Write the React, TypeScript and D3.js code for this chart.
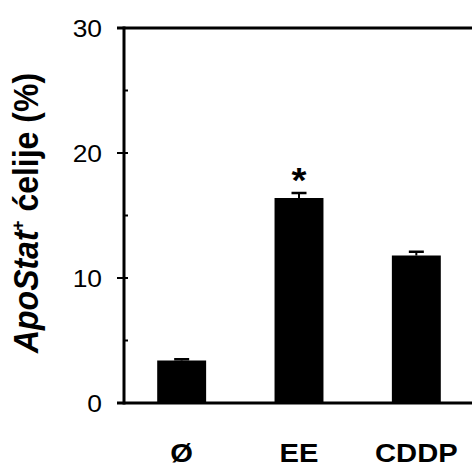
import React, { useEffect, useRef } from 'react'
import * as d3 from 'd3'

// bar chart: ApoStat+ cells per treatment
const categories = ['Ø', 'EE', 'CDDP']
const values = [3.4, 16.4, 11.8]
const errors = [0.1, 0.4, 0.3]
const marks = ['', '*', '']
const majorTicks = [0, 10, 20, 30]
const minorTicks = [5, 15, 25]

const width = 472
const height = 468
const stretch = 'scale(1.1,1)'

function App() {
  const node = useRef<SVGSVGElement | null>(null)

  useEffect(() => {
    const svg = d3.select(node.current)
    svg.selectAll('*').remove()

    const y = d3.scaleLinear().domain([0, 30]).range([403, 28])
    const x = d3.scaleBand<string>()
      .domain(categories)
      .range([124, 474])
      .paddingInner(0.583)
      .paddingOuter(0.283)

    const g = svg.append('g')

    // bars
    g.selectAll('rect.bar')
      .data(values)
      .join('rect')
      .attr('class', 'bar')
      .attr('x', (d, i) => x(categories[i])!)
      .attr('width', x.bandwidth())
      .attr('y', d => y(d))
      .attr('height', d => y(0) - y(d))
      .attr('fill', '#000')

    // error bars (upper only)
    const err = g.selectAll('g.err')
      .data(values)
      .join('g')
      .attr('class', 'err')
      .attr('transform', (d, i) => `translate(${x(categories[i])! + x.bandwidth() / 2},0)`)
    err.append('line')
      .attr('x1', 0).attr('x2', 0)
      .attr('y1', d => y(d))
      .attr('y2', (d, i) => y(d + errors[i]))
      .attr('stroke', '#000').attr('stroke-width', 2)
    err.append('line')
      .attr('x1', -7.5).attr('x2', 7.5)
      .attr('y1', (d, i) => y(d + errors[i]))
      .attr('y2', (d, i) => y(d + errors[i]))
      .attr('stroke', '#000').attr('stroke-width', 2.5)

    // significance marks
    g.selectAll('text.mark')
      .data(values)
      .join('text')
      .attr('class', 'mark')
      .attr('transform', (d, i) => `translate(${x(categories[i])! + x.bandwidth() / 2},${y(d + errors[i]) - 1}) ${stretch}`)
      .attr('text-anchor', 'middle')
      .attr('font-family', 'Liberation Sans, Arial, sans-serif')
      .attr('font-weight', 'bold')
      .attr('font-size', 35)
      .text((d, i) => marks[i])

    // axes
    const axisStroke = 3
    g.append('line')
      .attr('x1', 124).attr('x2', 124)
      .attr('y1', y(30) - 1.5).attr('y2', y(0) + 1.5)
      .attr('stroke', '#000').attr('stroke-width', axisStroke)
    g.append('line')
      .attr('x1', 117).attr('x2', width)
      .attr('y1', y(0)).attr('y2', y(0))
      .attr('stroke', '#000').attr('stroke-width', axisStroke)
    g.append('line')
      .attr('x1', 117).attr('x2', width)
      .attr('y1', y(30)).attr('y2', y(30))
      .attr('stroke', '#000').attr('stroke-width', axisStroke)

    g.selectAll('line.major')
      .data(majorTicks)
      .join('line')
      .attr('class', 'major')
      .attr('x1', 117).attr('x2', 128)
      .attr('y1', d => y(d)).attr('y2', d => y(d))
      .attr('stroke', '#000').attr('stroke-width', 2)
    g.selectAll('line.minor')
      .data(minorTicks)
      .join('line')
      .attr('class', 'minor')
      .attr('x1', 124).attr('x2', 128)
      .attr('y1', d => y(d)).attr('y2', d => y(d))
      .attr('stroke', '#000').attr('stroke-width', 2)

    g.selectAll('text.ytick')
      .data(majorTicks)
      .join('text')
      .attr('class', 'ytick')
      .attr('transform', d => `translate(102,${y(d) + 8.5}) ${stretch}`)
      .attr('text-anchor', 'end')
      .attr('font-family', 'Liberation Sans, Arial, sans-serif')
      .attr('font-size', 24)
      .text(d => d)

    g.selectAll('text.xlab')
      .data(categories)
      .join('text')
      .attr('class', 'xlab')
      .attr('transform', d => `translate(${x(d)! + x.bandwidth() / 2},462) ${stretch}`)
      .attr('text-anchor', 'middle')
      .attr('font-family', 'Liberation Sans, Arial, sans-serif')
      .attr('font-weight', 'bold')
      .attr('font-size', 26.5)
      .text(d => d)

    // y axis title
    const title = g.append('text')
      .attr('transform', `translate(38,213) ${stretch} rotate(-90)`)
      .attr('text-anchor', 'middle')
      .attr('font-family', 'Liberation Sans, Arial, sans-serif')
      .attr('font-weight', 'bold')
      .attr('font-size', 32)
    title.append('tspan').attr('font-style', 'italic').text('ApoStat')
    title.append('tspan').attr('font-size', 17).attr('dy', -13).text('+')
    title.append('tspan').attr('dy', 13).text(' ćelije (%)')
  }, [])

  return (
    <svg
      ref={node}
      width={width}
      height={height}
      style={{ position: 'absolute', left: 0, top: 0, background: '#fff' }}
    />
  )
}

export default App
